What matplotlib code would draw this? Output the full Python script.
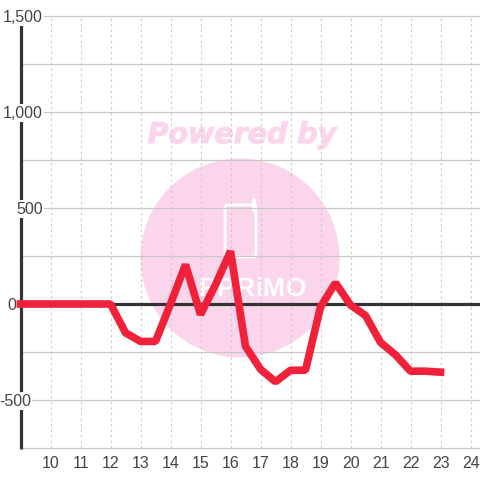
import matplotlib
matplotlib.use('Agg')
import matplotlib.pyplot as plt
import matplotlib.patheffects as pe
from matplotlib.patches import Circle, FancyBboxPatch
from matplotlib.transforms import IdentityTransform

hours = [9, 9.5, 10, 10.5, 11, 11.5, 12, 12.5, 13, 13.5, 14, 14.5, 15, 15.5, 16, 16.5,
         17, 17.5, 18, 18.5, 19, 19.5, 20, 20.5, 21, 21.5, 22, 22.5, 23]
values = [0, 0, 0, 0, 0, 0, 0, -150, -195, -195, 0, 205, -55, 100, 275, -220,
          -340, -405, -345, -345, -15, 110, -5, -60, -200, -265, -350, -350, -355]
x_ticks = list(range(10, 25))
y_major = [-500, 0, 500, 1000, 1500]
y_labels = ['-500', '0', '500', '1,000', '1,500']
y_label_right = [31, 16, 43, 43, 43]  # px, labels are not lined up in the original
y_minor = [-750, -250, 250, 750, 1250]
logo_letters = ['P', 'P', 'R', 'i', 'M', 'O']
logo_x = [207, 225.3, 244.5, 258.5, 273.5, 295.8]

plt.rcParams['font.family'] = ['Liberation Sans', 'DejaVu Sans']
fig = plt.figure(figsize=(4.8, 4.8), dpi=100)
ax = fig.add_axes([0, 32 / 480, 1, 432 / 480])
ax.set_xlim(9 - 20.5 / 30, 9 - 20.5 / 30 + 16)
ax.set_ylim(-750, 1500)
for s in ax.spines.values():
    s.set_visible(False)
ax.set_xticks([])
ax.set_yticks([])

def pt(x, y):
    return x / 480, 1 - y / 480

# watermark, laid out in figure pixels
wm = fig.transFigure
pink = '#fbd5ec'
ax.add_patch(Circle((240, 480 - 258), 99.5, transform=IdentityTransform(), fc=pink, ec='none', zorder=1))
ax.add_patch(FancyBboxPatch(pt(225, 257), 31 / 480, 52 / 480, boxstyle='round,pad=0,rounding_size=0.006',
                            transform=wm, fc='none', ec='white', lw=2, zorder=1.2))
ax.plot([pt(254.5, 200)[0], pt(254.5, 210)[0]], [pt(254.5, 200)[1], pt(254.5, 210)[1]],
        color='white', lw=3, solid_capstyle='round', transform=wm, zorder=1.2)
ax.text(*pt(242, 135), 'Powered by', color=pink, fontsize=20.5, fontweight='bold', style='italic',
        family='DejaVu Sans', ha='center', va='center', transform=wm, zorder=1.5,
        path_effects=[pe.withStroke(linewidth=0.8, foreground=pink)])
for letter, lx in zip(logo_letters, logo_x):
    ax.text(*pt(lx, 289), letter, color='white', fontsize=19, fontweight='bold',
            transform=wm, ha='center', va='center', zorder=1.5)

# grid
grid_c = '#c8c8c8'
ax.hlines(y_major + y_minor, 9, ax.get_xlim()[1], color=grid_c, lw=0.9, zorder=2, clip_on=False)
ax.vlines(x_ticks, -750, 1500, color=grid_c, lw=0.8, linestyles=(0, (2, 3)), zorder=2)

ax.hlines(0, 9, ax.get_xlim()[1], color='#333333', lw=2.3, zorder=3)
ax.vlines(9, -755, 1500, color='#333333', lw=2.3, zorder=3, clip_on=False)
ax.plot(hours, values, color='#f02138', lw=5.5, solid_joinstyle='bevel', solid_capstyle='projecting', zorder=7)

for t in x_ticks:
    ax.annotate(str(t), xy=(t, -750), xytext=(0.3, -6), textcoords='offset points', ha='center', va='top',
                fontsize=11.5, color='#444444', annotation_clip=False, zorder=6)
for v, lab, r in zip(y_major, y_labels, y_label_right):
    ax.annotate(lab, xy=(r / 480, v), xycoords=('axes fraction', 'data'), xytext=(0, -1), textcoords='offset points',
                ha='right', va='center', fontsize=11.5, color='#444444', zorder=6, annotation_clip=False,
                bbox=dict(fc='white', ec='none', pad=1))

fig.savefig('out.png', dpi=100)
